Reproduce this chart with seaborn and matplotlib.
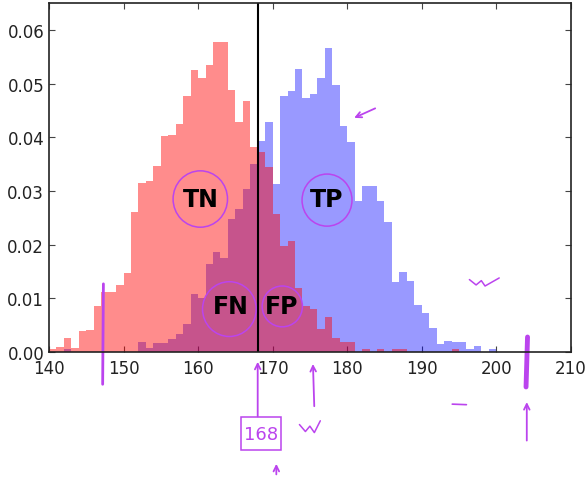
import numpy as np
import pandas as pd
import matplotlib
matplotlib.use('Agg')
import matplotlib.pyplot as plt
import seaborn as sns
from matplotlib.patches import Ellipse, Rectangle

# bin heights, bins of width 1 starting at 140
bin_start = list(range(140, 200))

female = [0.0006, 0.001, 0.0026, 0.0007, 0.0039, 0.0042, 0.0086, 0.0111, 0.0111, 0.0125,
          0.0148, 0.026, 0.0315, 0.0319, 0.0347, 0.0403, 0.0405, 0.0425, 0.0477, 0.0526,
          0.051, 0.0535, 0.0578, 0.0578, 0.0488, 0.0428, 0.0468, 0.0381, 0.0372, 0.0344,
          0.0257, 0.0198, 0.0207, 0.012, 0.0086, 0.008, 0.0043, 0.0065, 0.0027, 0.0018,
          0.0018, 0.0, 0.0005, 0.0, 0.0005, 0.0, 0.0005, 0.0005, 0.0, 0.0,
          0.0, 0.0, 0.0, 0.0, 0.0005, 0.0, 0.0, 0.0, 0.0, 0.0]

male = [0.0, 0.0, 0.0005, 0.0, 0.0, 0.0, 0.0, 0.0, 0.0, 0.0,
        0.0, 0.0, 0.0018, 0.0007, 0.0016, 0.0016, 0.0024, 0.0034, 0.0052, 0.0108,
        0.01, 0.0164, 0.0187, 0.0176, 0.0248, 0.0266, 0.0304, 0.035, 0.0393, 0.0428,
        0.0313, 0.0477, 0.0487, 0.0527, 0.0474, 0.048, 0.051, 0.0567, 0.0497, 0.0421,
        0.0392, 0.0282, 0.031, 0.031, 0.0282, 0.0242, 0.013, 0.015, 0.0133, 0.0087,
        0.0073, 0.0044, 0.0015, 0.0021, 0.0018, 0.0018, 0.0005, 0.0012, 0.0, 0.0005]

threshold = 168
labels = ['TN', 'TP', 'FN', 'FP']
label_x = [160.4, 177.3, 164.4, 171.2]
label_y = [0.0285, 0.0285, 0.0086, 0.0086]

df = pd.DataFrame({'x': np.array(bin_start) + 0.5, 'female': female, 'male': male})

sns.set_style('ticks')
plt.rcParams['font.family'] = ['DejaVu Sans']
plt.rcParams['xtick.direction'] = 'in'
plt.rcParams['ytick.direction'] = 'in'
plt.rcParams['xtick.top'] = True
plt.rcParams['ytick.right'] = True

fig = plt.figure(figsize=(5.86, 4.81), dpi=100)
ax = fig.add_axes([0.0836, 0.266, 0.8904, 0.7256])

sns.histplot(data=df, x='x', weights='male', binwidth=1, binrange=(140, 200),
             color='blue', alpha=0.4, linewidth=0, ax=ax)
sns.histplot(data=df, x='x', weights='female', binwidth=1, binrange=(140, 200),
             color='red', alpha=0.45, linewidth=0, ax=ax)

ax.axvline(threshold, color='black', lw=1.5)

for lab, lx, ly in zip(labels, label_x, label_y):
    ax.text(lx, ly, lab, fontsize=17, fontweight='bold', ha='center', va='center',
            color='black')

ax.set_xlim(140, 210)
ax.set_ylim(0, 0.065)
ax.set_xticks(range(140, 211, 10))
ax.set_yticks([0.0, 0.01, 0.02, 0.03, 0.04, 0.05, 0.06])
ax.set_yticklabels(['%.2f' % v for v in ax.get_yticks()])
ax.tick_params(labelsize=12, length=4, color='#444444', labelcolor='#222222')
ax.tick_params(axis='x', pad=5)
ax.set_xlabel('')
ax.set_ylabel('')
for s in ax.spines.values():
    s.set_color('#222222')
    s.set_linewidth(1.2)

# purple hand-drawn notes
pen = '#bb44ee'
for cx, cy, w, h in [(160.3, 0.0285, 7.3, 0.0105), (177.3, 0.0283, 6.7, 0.0097),
                     (164.2, 0.008, 7.2, 0.0102), (171.3, 0.0085, 5.4, 0.0076)]:
    ax.add_patch(Ellipse((cx, cy), w, h, fill=False, ec=pen, lw=1.1))

ax.plot([147.3, 147.2], [0.0127, -0.006], color=pen, lw=2, clip_on=False)
ax.plot([204.2, 204.0], [0.0028, -0.0065], color=pen, lw=3.5, clip_on=False)
ax.plot([194.1, 196.0], [-0.0097, -0.0098], color=pen, lw=1.2, clip_on=False)
ax.plot([196.4, 197.3, 198.0, 198.5, 200.4], [0.0135, 0.0125, 0.0133, 0.0123, 0.0138],
        color=pen, lw=1.1, clip_on=False)
ax.plot([173.6, 174.4, 175.0, 175.6, 176.4], [-0.0135, -0.0148, -0.0138, -0.0150, -0.0128],
        color=pen, lw=1.1, clip_on=False)

arrows = [((204.1, -0.0088), (204.1, -0.017)),
          ((175.4, -0.0017), (175.6, -0.0106)),
          ((168.0, -0.0013), (168.0, -0.0125)),
          ((170.5, -0.0203), (170.5, -0.0233)),
          ((180.6, 0.0434), (184.1, 0.0456))]
for tip, tail in arrows:
    ax.annotate('', xy=tip, xytext=tail, annotation_clip=False,
                arrowprops=dict(arrowstyle='->', color=pen, lw=1.3))

ax.add_patch(Rectangle((165.7, -0.0183), 5.4, 0.0062, fill=False, ec=pen, lw=1.1,
                       clip_on=False))
ax.text(168.4, -0.0152, '168', color=pen, fontsize=13, ha='center', va='center',
        clip_on=False)

fig.savefig('out.png', dpi=100, facecolor='white')
